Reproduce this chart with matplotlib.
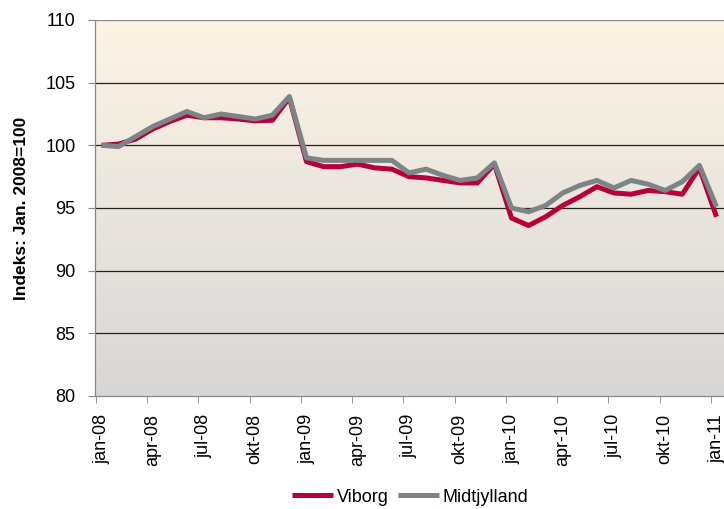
import numpy as np
import matplotlib.pyplot as plt
from matplotlib.colors import LinearSegmentedColormap

plt.rcParams['font.family'] = ['Liberation Sans', 'DejaVu Sans']

# monthly index, jan-08 .. jan-11
months = ['jan', 'feb', 'mar', 'apr', 'maj', 'jun', 'jul', 'aug', 'sep', 'okt', 'nov', 'dec']
labels = ['%s-%02d' % (months[i % 12], 8 + i // 12) for i in range(37)]

viborg = [100.0, 100.1, 100.5, 101.3, 101.9, 102.4, 102.2, 102.2, 102.1, 101.95, 102.0, 103.8,
          98.7, 98.3, 98.3, 98.5, 98.2, 98.1, 97.5, 97.4, 97.2, 97.0, 97.0, 98.5,
          94.2, 93.6, 94.3, 95.2, 95.9, 96.7, 96.2, 96.1, 96.4, 96.3, 96.1, 98.2,
          94.3]
midtjylland = [100.0, 99.9, 100.7, 101.5, 102.1, 102.7, 102.2, 102.5, 102.3, 102.1, 102.4, 103.9,
               99.0, 98.8, 98.8, 98.8, 98.8, 98.8, 97.8, 98.1, 97.6, 97.2, 97.4, 98.6,
               95.0, 94.7, 95.2, 96.2, 96.8, 97.2, 96.6, 97.2, 96.9, 96.4, 97.1, 98.4,
               95.1]

fig = plt.figure(figsize=(7.24, 5.09), dpi=100)
ax = fig.add_axes([95 / 724, 113 / 509, 629 / 724, 376 / 509])

x = np.arange(len(viborg))
x0, x1 = -0.38, 36.44
ax.set_xlim(x0, x1)
ax.set_ylim(80, 110)

# gradient background
cmap = LinearSegmentedColormap.from_list('bg', ['#d7d7d7', '#fdf4e4'])
grad = np.linspace(0, 1, 256).reshape(-1, 1)
ax.imshow(grad, cmap=cmap, aspect='auto', extent=[x0, x1, 80, 110],
          origin='lower', zorder=0)

for v in [85, 90, 95, 100, 105]:
    ax.axhline(v, color='#222222', lw=0.9, zorder=1)
ax.axhline(110, color='#888888', lw=0.9, zorder=1)

ax.plot(x, viborg, color='#b8003a', lw=3.6, solid_joinstyle='round',
        solid_capstyle='butt', label='Viborg', zorder=3)
ax.plot(x, midtjylland, color='#7c8488', lw=3.6, solid_joinstyle='round',
        solid_capstyle='butt', label='Midtjylland', zorder=4)

for s in ['top', 'right']:
    ax.spines[s].set_visible(False)
ax.spines['left'].set_color('#888888')
ax.spines['bottom'].set_color('#888888')
ax.spines['left'].set_linewidth(0.9)
ax.spines['bottom'].set_linewidth(0.9)

ax.set_yticks(range(80, 111, 5))
ax.tick_params(axis='y', labelsize=13, length=5, color='#888888', pad=9)

# tick marks at category borders, labels on the data points
ax.set_xticks(np.arange(0, 37, 3) - 0.33, minor=True)
ax.set_xticks(np.arange(0, 37, 3))
ax.set_xticklabels(labels[::3], rotation=90)
ax.tick_params(axis='x', which='major', length=0, labelsize=13, pad=13)
ax.tick_params(axis='x', which='minor', length=5, color='#888888')

ax.set_ylabel('Indeks: Jan. 2008=100', fontsize=12.5, fontweight='bold', labelpad=12)

fig.legend(loc='center', bbox_to_anchor=(410 / 724, 12 / 509), ncol=2, frameon=False,
           fontsize=13, handlelength=2.3, handletextpad=0.2, columnspacing=0.5,
           borderpad=0.1)

fig.savefig('out.png', dpi=100)
